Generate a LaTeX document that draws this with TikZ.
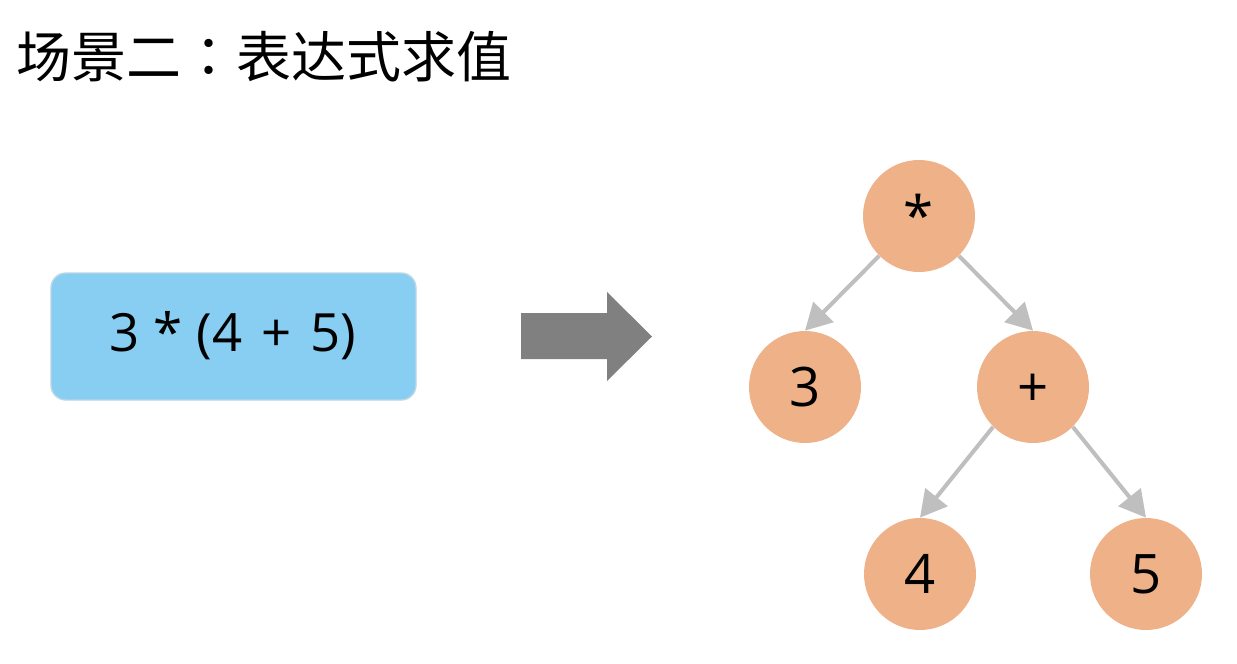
\documentclass[tikz,border=0pt]{standalone}
\usepackage{fontspec}
\setmainfont{Open Sans}
\newfontfamily\cjk{Noto Sans CJK SC}
\newfontfamily\cjktc{Noto Sans CJK TC}
\usetikzlibrary{arrows.meta,shapes.arrows}
\definecolor{exprblue}{RGB}{135,206,242}
\definecolor{expredge}{RGB}{185,215,230}
\definecolor{treenode}{RGB}{238,177,136}
\definecolor{treeedge}{RGB}{191,191,191}
\definecolor{bigarrow}{RGB}{128,128,128}

\begin{document}
\begin{tikzpicture}[x=0.02cm,y=-0.02cm,
  opnode/.style={circle,fill=treenode,minimum size=112*0.02cm,inner sep=0pt,
    font=\fontsize{31pt}{31pt}\selectfont,text height=22.3pt,text depth=0pt},
  edge/.style={treeedge,line width=2.3pt,-{Triangle[length=15pt,width=16pt]}}]
\useasboundingbox (0,0) rectangle (1237,663);
\node[anchor=west,inner sep=0pt,font=\cjk\fontsize{31.3pt}{31.3pt}\selectfont] (title) at (16,57) {场景二{\cjktc ：}表达式求值};
% expression
\draw[fill=exprblue,draw=expredge,line width=0.8pt,rounded corners=15*0.02cm] (51,273) rectangle (416,400);
\node[font=\fontsize{30pt}{30pt}\selectfont,text height=21.6pt,text depth=6.3pt] (expr) at (233,338) {3 * (4\hspace{3pt} + \hspace{3pt}5)};
% conversion arrow
\fill[bigarrow] (521,313) -- (607,313) -- (607,292) -- (652,336.5) -- (607,381) -- (607,359) -- (521,359) -- cycle;
% tree
\node[opnode] (mul) at (919,216) {*};
\node[opnode] (three) at (805,387) {3};
\node[opnode] (plus) at (1033,387) {+};
\node[opnode] (four) at (920,574) {4};
\node[opnode] (five) at (1146,574) {5};
\draw[edge] (mul.225) -- (three.north);
\draw[edge] (mul.-45) -- (plus.north);
\draw[edge] (plus.225) -- (four.north);
\draw[edge] (plus.-45) -- (five.north);
\end{tikzpicture}
\end{document}
